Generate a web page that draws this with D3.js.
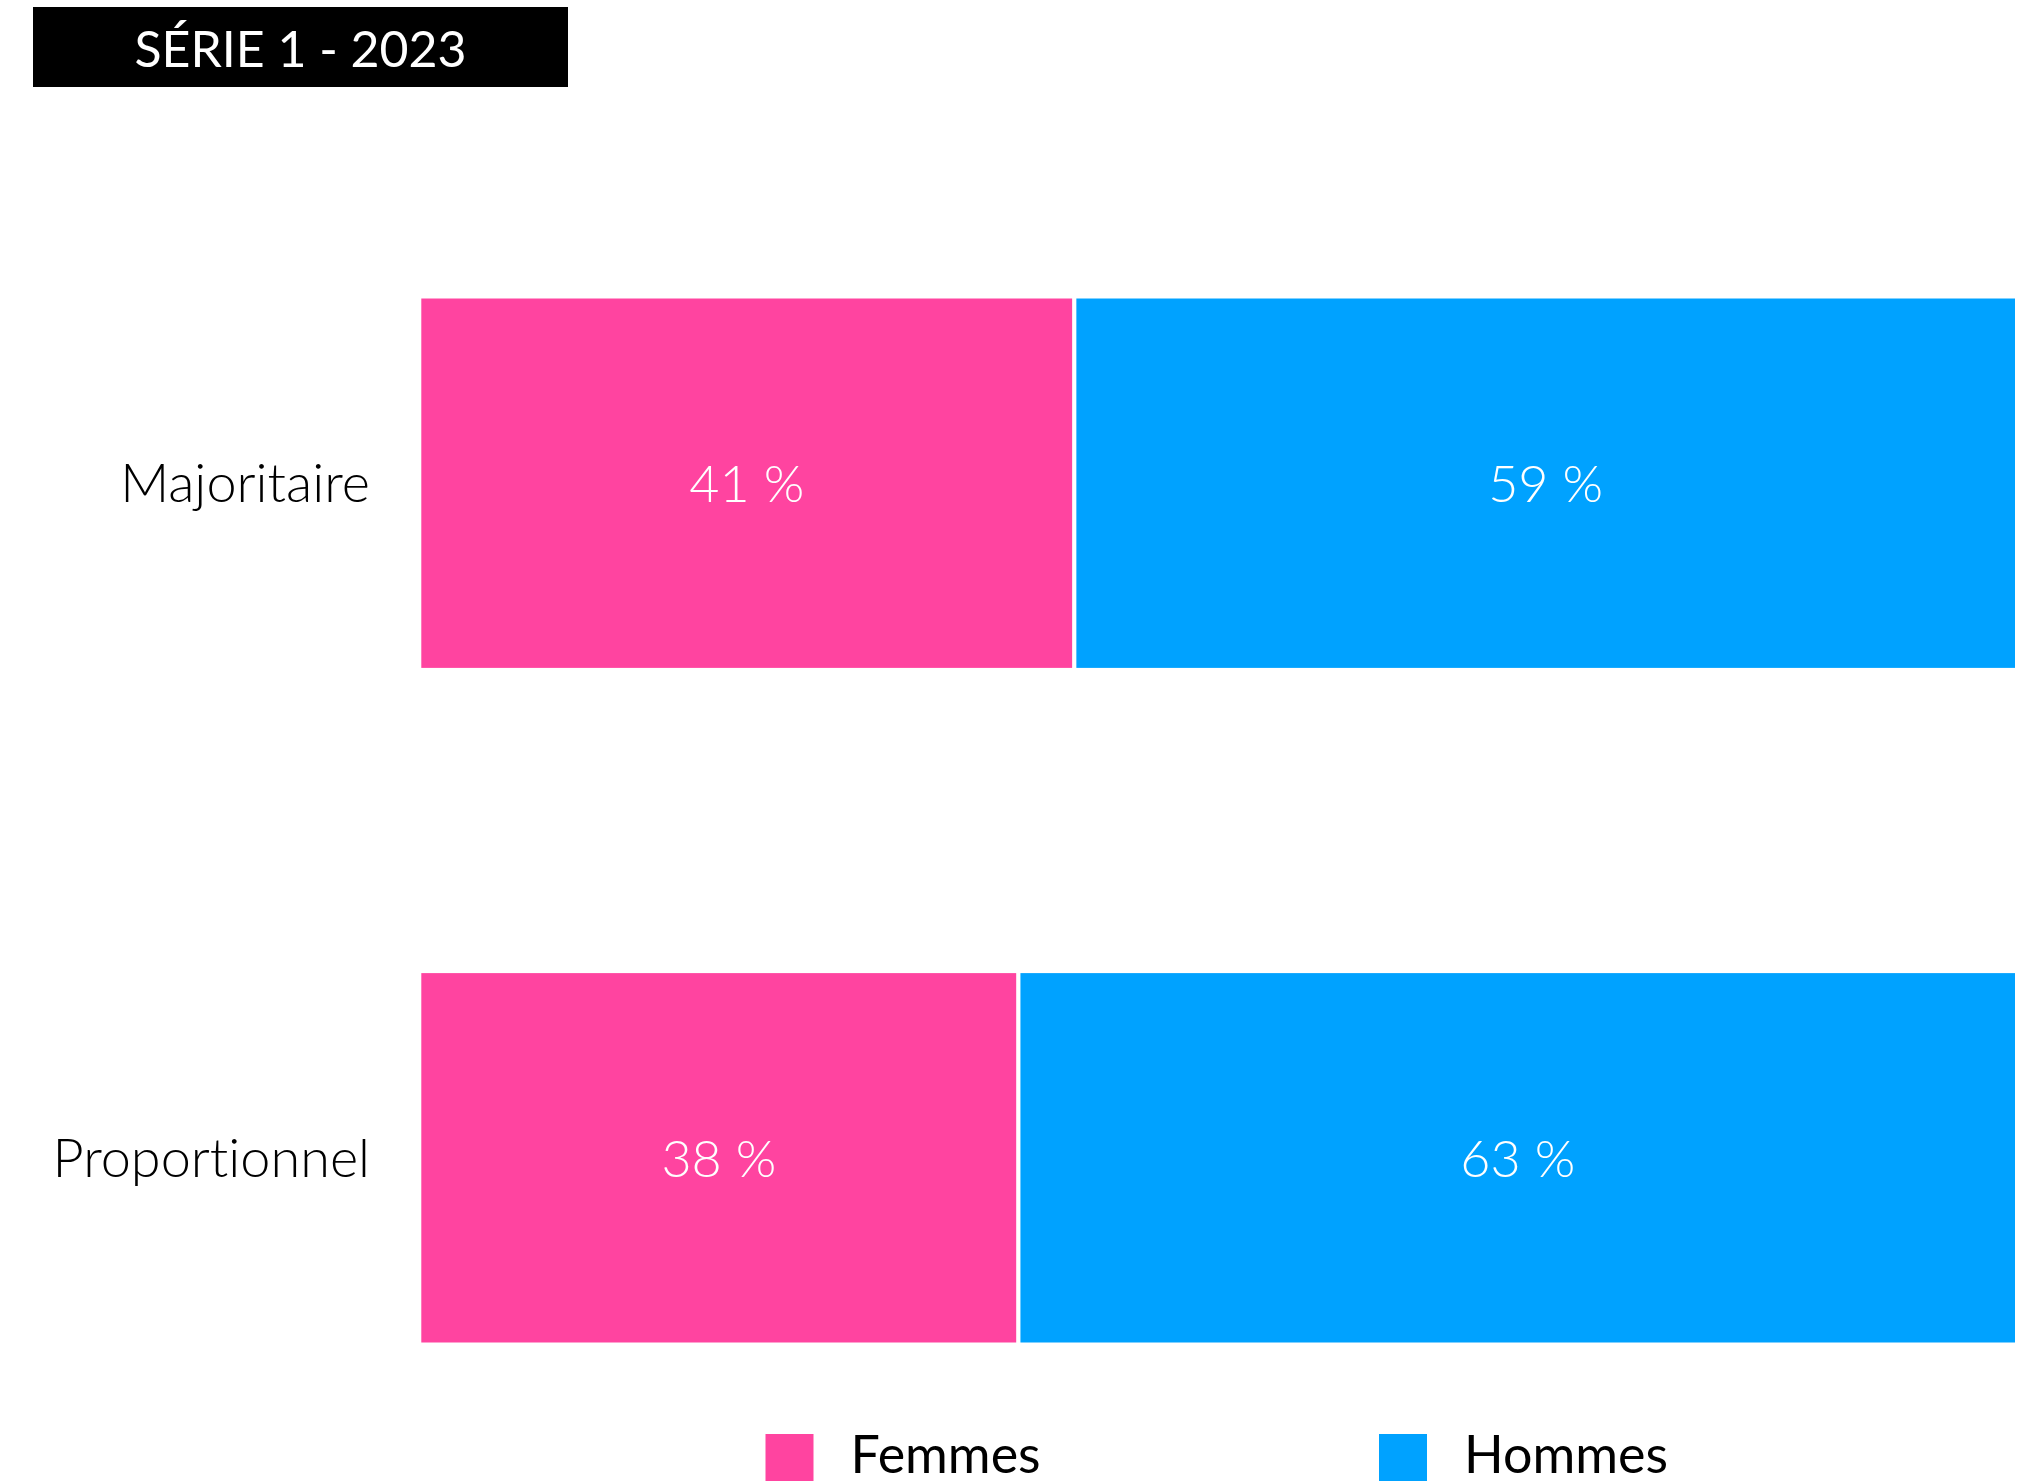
<!DOCTYPE html>
<html>
<head>
<meta charset="utf-8">
<script src="https://cdn.jsdelivr.net/npm/d3@7"></script>
<style>
  html, body { margin: 0; padding: 0; background: #fff; }
  svg { display: block; }
  text { font-variant-ligatures: none; font-feature-settings: "liga" 0, "dlig" 0; }
</style>
</head>
<body>
<script>
// ---- Data ----
const title = "SÉRIE 1 - 2023";
const categories = ["Majoritaire", "Proportionnel"];
const seriesNames = ["Femmes", "Hommes"];
const femmes = [41, 37.5];
const hommes = [59, 62.5];
const colors = ["#ff44a0", "#00a2ff"];

const W = 2023, H = 1484;
const svg = d3.select("body").append("svg").attr("width", W).attr("height", H);

// Title box
svg.append("rect").attr("x", 33).attr("y", 7).attr("width", 535).attr("height", 80).attr("fill", "#000");
svg.append("text").attr("x", 300.5).attr("y", 66.5).attr("text-anchor", "middle")
  .attr("font-family", "Lato").attr("font-size", 50).attr("font-weight", 400)
  .attr("fill", "#fff").text(title);

// Scales
const x = d3.scaleLinear().domain([0, 100]).range([419.3, 2017]);
const y = d3.scaleBand().domain(categories).range([296.5, 1344.5]).paddingInner(0.4465).paddingOuter(0);
const color = d3.scaleOrdinal().domain(seriesNames).range(colors);

const table = categories.map((c, i) => ({ cat: c, Femmes: femmes[i], Hommes: hommes[i] }));
const stacked = d3.stack().keys(seriesNames)(table);

const groups = svg.append("g").selectAll("g").data(stacked).join("g").attr("fill", d => color(d.key));
groups.selectAll("rect").data(d => d).join("rect")
  .attr("x", d => x(d[0]))
  .attr("y", d => y(d.data.cat))
  .attr("width", d => x(d[1]) - x(d[0]))
  .attr("height", y.bandwidth())
  .attr("stroke", "#fff").attr("stroke-width", 4);

// Value labels
groups.selectAll("text").data(d => d).join("text")
  .attr("x", d => (x(d[0]) + x(d[1])) / 2)
  .attr("y", d => y(d.data.cat) + y.bandwidth() / 2 + 19)
  .attr("text-anchor", "middle")
  .attr("font-family", "Lato").attr("font-size", 52).attr("font-weight", 300)
  .attr("fill", "#fff")
  .text(d => Math.round(d[1] - d[0]) + " %");

// Category axis labels
const yAxis = d3.axisLeft(y).tickSize(0).tickPadding(0);
const ag = svg.append("g").attr("transform", "translate(370,0)").call(yAxis);
ag.select(".domain").remove();
ag.selectAll("text")
  .attr("font-family", "Lato").attr("font-size", 54).attr("font-weight", 300)
  .attr("fill", "#000").attr("dy", null)
  .attr("y", 19);

// Legend
const legendX = [765.5, 1379];
const lg = svg.append("g").selectAll("g").data(seriesNames).join("g")
  .attr("transform", (d, i) => `translate(${legendX[i]},1434)`);
lg.append("rect").attr("width", 48).attr("height", 47).attr("fill", d => color(d));
lg.append("text").attr("x", 85).attr("y", 39)
  .attr("font-family", "Lato").attr("font-size", 52).attr("font-weight", 400)
  .attr("fill", "#000").text(d => d);
</script>
</body>
</html>
